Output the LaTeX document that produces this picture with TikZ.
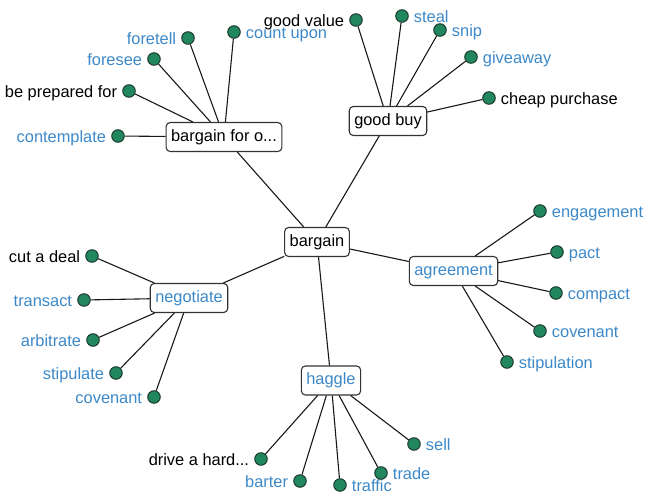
\documentclass[tikz,border=0pt]{standalone}
\usepackage{fontspec}
\setmainfont{Liberation Sans}
\definecolor{dotgreen}{HTML}{21875F}
\definecolor{dotrim}{HTML}{1C3A2C}
\definecolor{wblue}{HTML}{3C88C8}
\definecolor{boxrim}{HTML}{333333}
\begin{document}
\begin{tikzpicture}[x=1pt,y=-1pt,
  font=\fontsize{16.4}{19}\selectfont,
  hub/.style={draw=boxrim,line width=1.1pt,rounded corners=4pt,fill=white,
    inner xsep=5pt,inner ysep=7pt,text height=11.5pt,text depth=3.5pt},
  leaf/.style={circle,draw=dotrim,line width=1pt,fill=dotgreen,minimum size=12.5pt,inner sep=0pt},
  lbl/.style={inner sep=2pt,text height=13pt,text depth=1pt},
  bl/.style={text=wblue},
  bk/.style={text=black},
  link/.style={draw=black!90,line width=1.1pt},
  label distance=3pt]
\useasboundingbox (0,0) rectangle (649,498);

% leaves
\node[leaf,label={[lbl,bl]left:foretell}] (l1) at (188,38) {};
\node[leaf,label={[lbl,bl]right:count upon}] (l2) at (234,32) {};
\node[leaf,label={[lbl,bl]left:foresee}] (l3) at (154,59) {};
\node[leaf,label={[lbl,bk]left:be prepared for}] (l4) at (129,91) {};
\node[leaf,label={[lbl,bl]left:contemplate}] (l5) at (118,136) {};

\node[leaf,label={[lbl,bk]left:good value}] (g1) at (356,20) {};
\node[leaf,label={[lbl,bl]right:steal}] (g2) at (402,16) {};
\node[leaf,label={[lbl,bl]right:snip}] (g3) at (440,30) {};
\node[leaf,label={[lbl,bl]right:giveaway}] (g4) at (471,57) {};
\node[leaf,label={[lbl,bk]right:cheap purchase}] (g5) at (489,98) {};

\node[leaf,label={[lbl,bk]left:cut a deal}] (n1) at (92,256) {};
\node[leaf,label={[lbl,bl]left:transact}] (n2) at (84,300) {};
\node[leaf,label={[lbl,bl]left:arbitrate}] (n3) at (93,340) {};
\node[leaf,label={[lbl,bl]left:stipulate}] (n4) at (116,373) {};
\node[leaf,label={[lbl,bl]left:covenant}] (n5) at (154,397) {};

\node[leaf,label={[lbl,bl]right:engagement}] (a1) at (540,211) {};
\node[leaf,label={[lbl,bl]right:pact}] (a2) at (557,252) {};
\node[leaf,label={[lbl,bl]right:compact}] (a3) at (556,293) {};
\node[leaf,label={[lbl,bl]right:covenant}] (a4) at (540,331) {};
\node[leaf,label={[lbl,bl]right:stipulation}] (a5) at (507,362) {};

\node[leaf,label={[lbl,bk]left:drive a hard...}] (h1) at (261,459) {};
\node[leaf,label={[lbl,bl]left:barter}] (h2) at (300,481) {};
\node[leaf,label={[lbl,bl]right:traffic}] (h3) at (340,485) {};
\node[leaf,label={[lbl,bl]right:trade}] (h4) at (381,473) {};
\node[leaf,label={[lbl,bl]right:sell}] (h5) at (414,444) {};

% hubs
\node[hub] (c) at (317,242) {bargain};
\node[hub] (bf) at (224,137) {bargain for o...};
\node[hub] (gb) at (388,121) {good buy};
\node[hub,text=wblue] (ng) at (189,298) {negotiate};
\node[hub,text=wblue] (ag) at (453.5,271) {agreement};
\node[hub,text=wblue] (hg) at (331,380.5) {haggle};

% connectors
\foreach \a/\b in {c/bf,c/gb,c/ng,c/ag,c/hg,
  bf/l1,bf/l2,bf/l3,bf/l4,bf/l5,
  gb/g1,gb/g2,gb/g3,gb/g4,gb/g5,
  ng/n1,ng/n2,ng/n3,ng/n4,ng/n5,
  ag/a1,ag/a2,ag/a3,ag/a4,ag/a5,
  hg/h1,hg/h2,hg/h3,hg/h4,hg/h5}
  \draw[link] (\a) -- (\b);
\end{tikzpicture}
\end{document}
